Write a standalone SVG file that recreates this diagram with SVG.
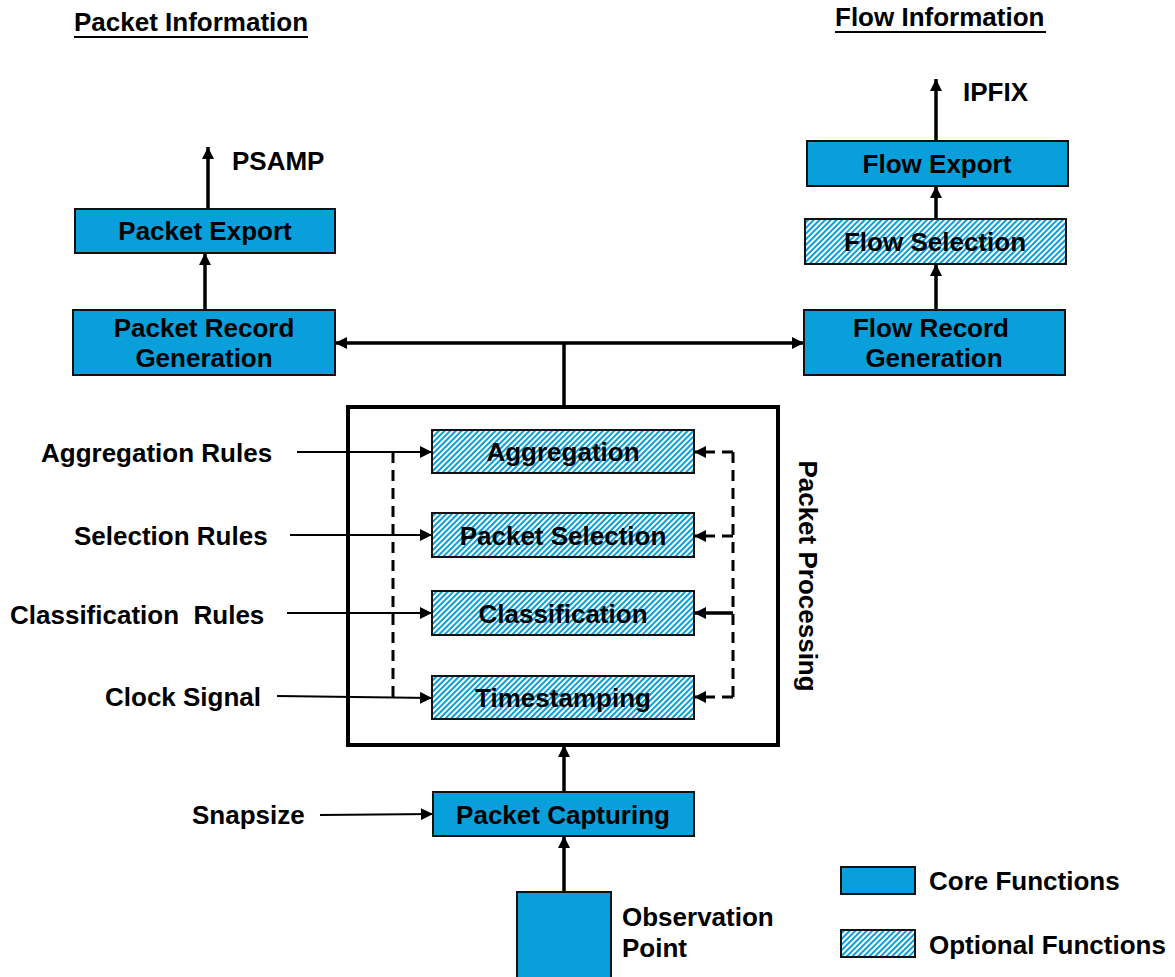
<svg xmlns="http://www.w3.org/2000/svg" width="1175" height="977" viewBox="0 0 1175 977">
<style>
text{font-family:"Liberation Sans",Arial,sans-serif;font-weight:bold;font-size:26px;fill:#000}
.m{text-anchor:middle}
.core{fill:#089fda;stroke:#111;stroke-width:2}
.opt{fill:url(#hatch);stroke:#111;stroke-width:2}
.ln{stroke:#000;stroke-width:3.5;fill:none}
.thin{stroke:#000;stroke-width:2;fill:none}
.dash{stroke:#000;stroke-width:3;fill:none;stroke-dasharray:11 7}
</style>
<defs>
<pattern id="hatch" patternUnits="userSpaceOnUse" width="4" height="4" patternTransform="rotate(45)">
<rect width="4" height="4" fill="#089fda"/>
<rect x="0" y="0" width="2" height="4" fill="#fff"/>
</pattern>
<marker id="ah" viewBox="0 0 10 10" refX="10" refY="5" markerWidth="12" markerHeight="12" markerUnits="userSpaceOnUse" orient="auto">
<path d="M0,0 L10,5 L0,10 z" fill="#000"/>
</marker>
<marker id="ahs" viewBox="0 0 10 10" refX="10" refY="5" markerWidth="12" markerHeight="12" markerUnits="userSpaceOnUse" orient="auto-start-reverse">
<path d="M0,0 L10,5 L0,10 z" fill="#000"/>
</marker>
</defs>

<text x="74" y="31">Packet Information</text>
<line x1="74" y1="37" x2="308" y2="37" class="thin"/>
<text x="835" y="26">Flow Information</text>
<line x1="835" y1="32" x2="1046" y2="32" class="thin"/>
<text x="232" y="170">PSAMP</text>
<text x="963" y="101">IPFIX</text>

<g id="connectors">
<line x1="208" y1="209" x2="208" y2="147" class="ln" marker-end="url(#ah)"/>
<line x1="205" y1="310" x2="205" y2="253" class="ln" marker-end="url(#ah)"/>
<line x1="936" y1="141" x2="936" y2="79" class="ln" marker-end="url(#ah)"/>
<line x1="936" y1="219" x2="936" y2="186" class="ln" marker-end="url(#ah)"/>
<line x1="936" y1="310" x2="936" y2="264" class="ln" marker-end="url(#ah)"/>
<line x1="335" y1="343" x2="804" y2="343" class="ln" marker-start="url(#ahs)" marker-end="url(#ahs)"/>
<line x1="564" y1="343" x2="564" y2="407" class="ln"/>
<line x1="564" y1="792" x2="564" y2="745" class="ln" marker-end="url(#ah)"/>
<line x1="564" y1="892" x2="564" y2="836" class="ln" marker-end="url(#ah)"/>
<line x1="320" y1="815" x2="433" y2="814" class="thin" marker-end="url(#ah)"/>
<line x1="297" y1="452" x2="432" y2="452" class="thin" marker-end="url(#ah)"/>
<line x1="290" y1="535" x2="432" y2="535" class="thin" marker-end="url(#ah)"/>
<line x1="287" y1="613" x2="432" y2="613" class="thin" marker-end="url(#ah)"/>
<line x1="277" y1="696" x2="432" y2="698" class="thin" marker-end="url(#ah)"/>
<path d="M393,452 V697" class="dash"/>
<path d="M733,452 V697" class="dash"/>
<line x1="733" y1="452" x2="694" y2="452" class="dash" marker-end="url(#ah)"/>
<line x1="733" y1="536" x2="694" y2="536" class="dash" marker-end="url(#ah)"/>
<line x1="733" y1="613" x2="694" y2="613" class="ln" marker-end="url(#ah)"/>
<line x1="733" y1="697" x2="694" y2="697" class="dash" marker-end="url(#ah)"/>
</g>

<g id="packet-export"><rect x="75" y="209" width="260" height="44" class="core"/><text x="205" y="240" class="m">Packet Export</text></g>
<g id="packet-record-generation"><rect x="73" y="310" width="262" height="65" class="core"/><text x="204" y="337" class="m">Packet Record</text><text x="204" y="367" class="m">Generation</text></g>
<g id="flow-export"><rect x="807" y="141" width="261" height="45" class="core"/><text x="937" y="173" class="m">Flow Export</text></g>
<g id="flow-selection"><rect x="805" y="219" width="261" height="45" class="opt"/><text x="935" y="251" class="m">Flow Selection</text></g>
<g id="flow-record-generation"><rect x="804" y="310" width="261" height="65" class="core"/><text x="931" y="337" class="m">Flow Record</text><text x="934" y="367" class="m">Generation</text></g>

<g id="packet-processing"><rect x="348" y="407" width="430" height="338" fill="none" stroke="#000" stroke-width="4"/><text transform="translate(799,576) rotate(90)" class="m">Packet Processing</text></g>
<g id="aggregation"><rect x="432" y="430" width="262" height="43" class="opt"/><text x="563" y="461" class="m">Aggregation</text></g>
<g id="packet-selection"><rect x="432" y="513" width="262" height="44" class="opt"/><text x="563" y="545" class="m">Packet Selection</text></g>
<g id="classification"><rect x="432" y="591" width="262" height="44" class="opt"/><text x="563" y="623" class="m">Classification</text></g>
<g id="timestamping"><rect x="432" y="676" width="262" height="43" class="opt"/><text x="563" y="707" class="m">Timestamping</text></g>
<g id="packet-capturing"><rect x="433" y="792" width="261" height="44" class="core"/><text x="563" y="824" class="m">Packet Capturing</text></g>
<g id="observation-point"><rect x="517" y="892" width="94" height="90" class="core"/><text x="622" y="926">Observation</text><text x="622" y="957">Point</text></g>

<g id="inputs">
<text x="41" y="462">Aggregation Rules</text>
<text x="74" y="545">Selection Rules</text>
<text x="10" y="624" xml:space="preserve">Classification  Rules</text>
<text x="105" y="706">Clock Signal</text>
<text x="192" y="824">Snapsize</text>
</g>

<g id="legend">
<rect x="841" y="867" width="74" height="27" class="core"/><text x="929" y="890">Core Functions</text>
<rect x="841" y="930" width="74" height="27" class="opt"/><text x="929" y="954">Optional Functions</text>
</g>
</svg>
